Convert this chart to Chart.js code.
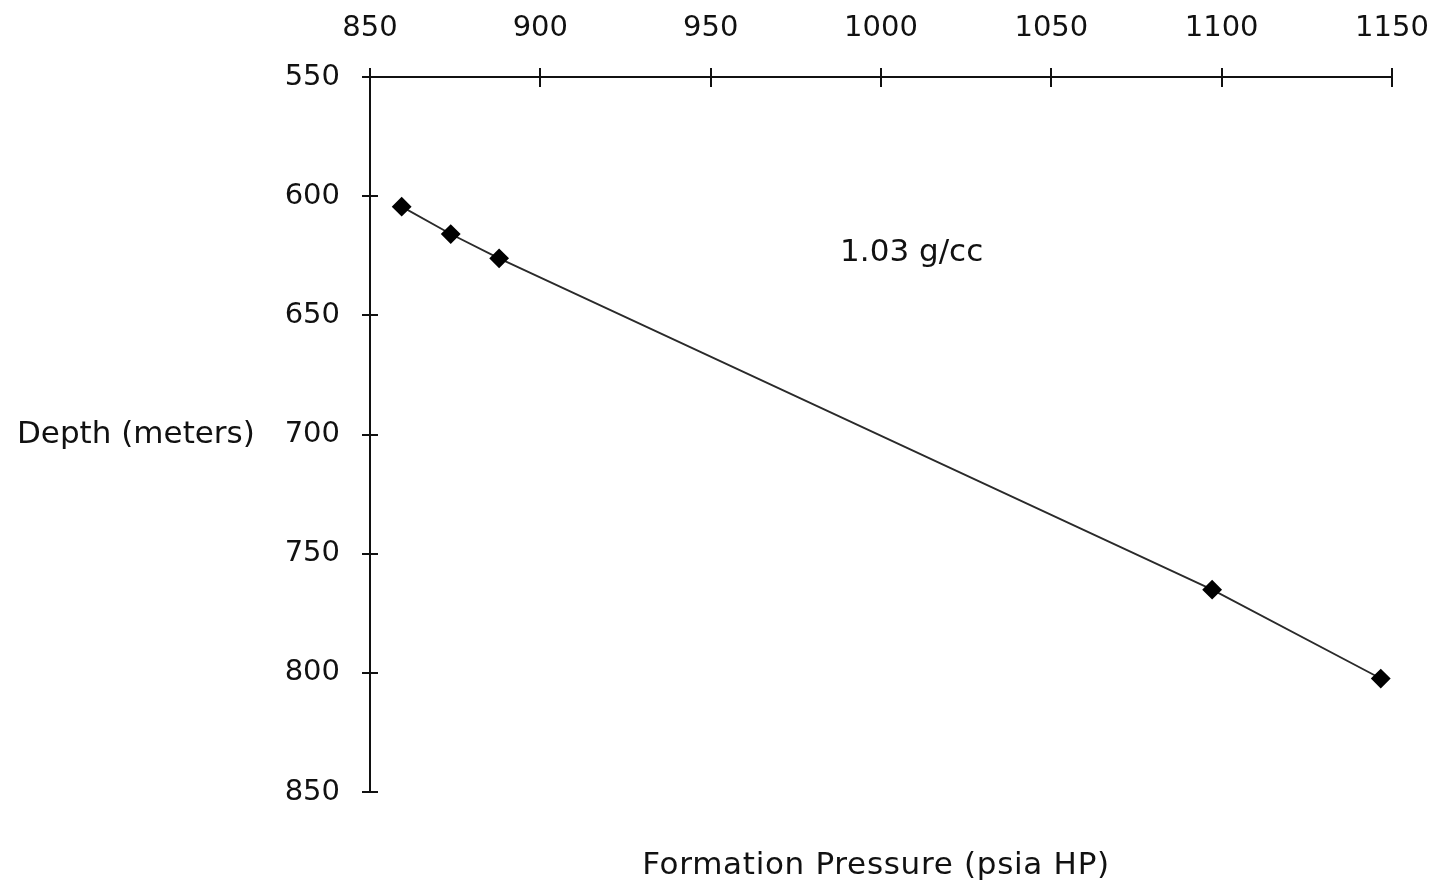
<!DOCTYPE html>
<html>
<head>
<meta charset="utf-8">
<script src="https://cdn.jsdelivr.net/npm/chart.js@4.4.1/dist/chart.umd.min.js"></script>
<style>
  html, body { margin: 0; padding: 0; background: #fff; }
  canvas { display: block; }
</style>
</head>
<body>
<canvas id="c" width="1444" height="888"></canvas>
<script>
// Measured formation pressures (psia) and their depths (m)
const pressure = [859.3, 873.7, 887.9, 1097.2, 1146.7];
const depth    = [604.4, 615.9, 626.1, 765.1, 802.4];

// Axis ranges / tick spacing
const pressureRange = [850, 1150];
const depthRange = [550, 850];
const tickStep = 50;

// Texts
const xTitle = 'Formation Pressure (psia HP)';
const yTitle = 'Depth (meters)';
const gradientLabel = '1.03 g/cc';
const gradientLabelAt = [1009, 624]; // pressure, depth

const FONT = '"DejaVu Sans", sans-serif';
const INK = '#111';

// Axis ticks that cross the axis line on both sides
const crossTicks = {
  id: 'crossTicks',
  afterDraw(chart) {
    const { ctx, chartArea, scales } = chart;
    ctx.save();
    ctx.strokeStyle = INK;
    ctx.lineWidth = 2;
    ctx.beginPath();
    scales.x.ticks.forEach(t => {
      const px = Math.round(scales.x.getPixelForValue(t.value));
      ctx.moveTo(px, chartArea.top - 9);
      ctx.lineTo(px, chartArea.top + 10);
    });
    scales.y.ticks.forEach(t => {
      const py = Math.round(scales.y.getPixelForValue(t.value));
      ctx.moveTo(chartArea.left - 8, py);
      ctx.lineTo(chartArea.left + 8, py);
    });
    ctx.stroke();
    ctx.restore();
  }
};

// Axis titles and the gradient annotation
const texts = {
  id: 'texts',
  afterDraw(chart) {
    const { ctx, chartArea, scales } = chart;
    ctx.save();
    ctx.fillStyle = INK;
    ctx.font = '31px ' + FONT;
    ctx.textBaseline = 'middle';
    ctx.textAlign = 'left';
    ctx.fillText(yTitle, 17, (chartArea.top + chartArea.bottom) / 2);
    ctx.textAlign = 'center';
    ctx.fillText(gradientLabel,
      scales.x.getPixelForValue(gradientLabelAt[0]),
      scales.y.getPixelForValue(gradientLabelAt[1]));
    ctx.letterSpacing = '0.7px';
    ctx.fillText(xTitle, (chartArea.left + chartArea.right) / 2 - 5, 866);
    ctx.restore();
  }
};

new Chart(document.getElementById('c'), {
  type: 'scatter',
  data: {
    datasets: [{
      data: pressure.map((p, i) => ({ x: p, y: depth[i] })),
      showLine: true,
      borderColor: '#2a2a2a',
      borderWidth: 1.8,
      pointStyle: 'rectRot',
      pointRadius: 8.5,
      pointBackgroundColor: '#000',
      pointBorderColor: '#000',
      pointBorderWidth: 2
    }]
  },
  options: {
    responsive: false,
    animation: false,
    layout: { padding: { left: 0, top: 0, right: 52, bottom: 96 } },
    plugins: { legend: { display: false }, tooltip: { enabled: false } },
    scales: {
      x: {
        type: 'linear',
        position: 'top',
        min: pressureRange[0],
        max: pressureRange[1],
        grid: { display: false, drawTicks: false },
        border: { display: true, color: INK, width: 2 },
        ticks: {
          stepSize: tickStep, color: INK, padding: 31,
          font: { family: FONT, size: 29 },
          callback: v => String(v)
        },
        afterFit(s) { s.height = 77; s.paddingLeft = 0; s.paddingRight = 0; }
      },
      y: {
        type: 'linear',
        position: 'left',
        reverse: true,
        min: depthRange[0],
        max: depthRange[1],
        grid: { display: false, drawTicks: false },
        border: { display: true, color: INK, width: 2 },
        ticks: {
          stepSize: tickStep, color: INK, padding: 30,
          font: { family: FONT, size: 29 },
          callback: v => String(v)
        },
        afterFit(s) { s.width = 370; s.paddingTop = 0; s.paddingBottom = 0; }
      }
    }
  },
  plugins: [crossTicks, texts]
});
</script>
</body>
</html>
